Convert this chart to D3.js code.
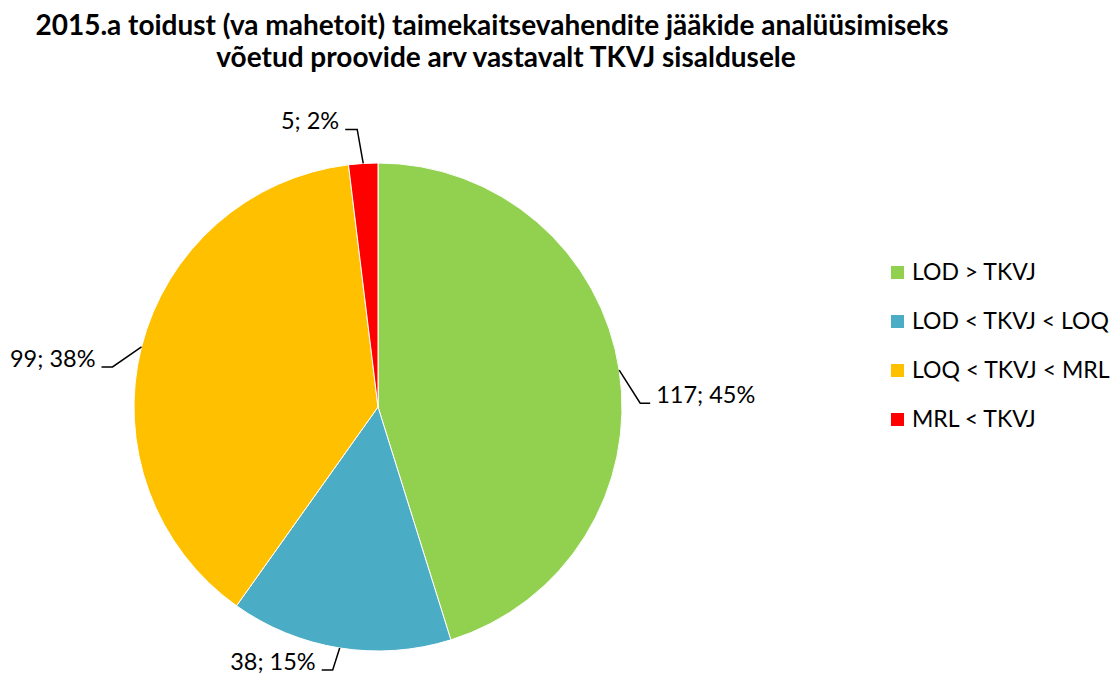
<!DOCTYPE html>
<meta charset="utf-8">
<style>
body { margin: 0; background: #fff; }
text { font-family: Lato, "Open Sans", sans-serif; fill: #000; }
.title { font-weight: bold; font-size: 28px; }
.lbl { font-size: 23.5px; }
.legend text { font-size: 23px; }
</style>
<body>
<script src="https://cdn.jsdelivr.net/npm/d3@7"></script>
<script>
// data
var categories = ["LOD > TKVJ", "LOD < TKVJ < LOQ", "LOQ < TKVJ < MRL", "MRL < TKVJ"];
var counts = [117, 38, 99, 5];
var percents = ["45%", "15%", "38%", "2%"];
var colors = ["#92D050", "#4BACC6", "#FFC000", "#FF0000"];
var titleLines = ["2015.a toidust (va mahetoit) taimekaitsevahendite jääkide analüüsimiseks",
                  "võetud proovide arv vastavalt TKVJ sisaldusele"];

var width = 1119, height = 675;
var cx = 378, cy = 407, radius = 244;

// leader line elbows/ends relative to the slice edge point (layout only)
var leader = [
  {ex: 21, ey: 33, len: 10, side: 1},
  {ex: -7, ey: 22, len: -11, side: -1},
  {ex: -29, ey: 20, len: -11, side: -1},
  {ex: -6, ey: -34, len: -12, side: -1}
];

var svg = d3.select("body").append("svg")
    .attr("width", width)
    .attr("height", height);

// title
svg.selectAll(".title")
    .data(titleLines)
  .enter().append("text")
    .attr("class", "title")
    .attr("text-anchor", "middle")
    .attr("x", function(d, i) { return i == 0 ? 492 : 506; })
    .attr("y", function(d, i) { return 35 + i * 32; })
    .text(function(d) { return d; });

var pie = d3.pie().sort(null).value(function(d) { return d; });
var arcs = pie(counts);
var arc = d3.arc().innerRadius(0).outerRadius(radius);

var g = svg.append("g")
    .attr("transform", "translate(" + cx + "," + cy + ")");

g.selectAll("path")
    .data(arcs)
  .enter().append("path")
    .attr("d", arc)
    .attr("fill", function(d, i) { return colors[i]; })
    .attr("stroke", "#fff")
    .attr("stroke-width", 1);

// labels with leader lines
arcs.forEach(function(d, i) {
  var a = (d.startAngle + d.endAngle) / 2;
  var px = radius * Math.sin(a), py = -radius * Math.cos(a);
  var L = leader[i];
  var ex = px + L.ex, ey = py + L.ey;
  var tx = ex + L.len;
  g.append("path")
      .attr("d", "M" + px + "," + py + "L" + ex + "," + ey + "L" + tx + "," + ey)
      .attr("fill", "none")
      .attr("stroke", "#000")
      .attr("stroke-width", 1.5);
  g.append("text")
      .attr("class", "lbl")
      .attr("x", tx + L.side * 6)
      .attr("y", ey)
      .attr("text-anchor", L.side > 0 ? "start" : "end")
      .text(counts[i] + "; " + percents[i]);
});

// legend
var legend = svg.append("g")
    .attr("class", "legend")
    .attr("transform", "translate(891,266)");

var item = legend.selectAll("g")
    .data(categories)
  .enter().append("g")
    .attr("transform", function(d, i) { return "translate(0," + i * 49 + ")"; });

item.append("rect")
    .attr("width", 13)
    .attr("height", 13)
    .attr("fill", function(d, i) { return colors[i]; });

item.append("text")
    .attr("x", 21)
    .attr("y", 14)
    .text(function(d) { return d; });
</script>
</body>
